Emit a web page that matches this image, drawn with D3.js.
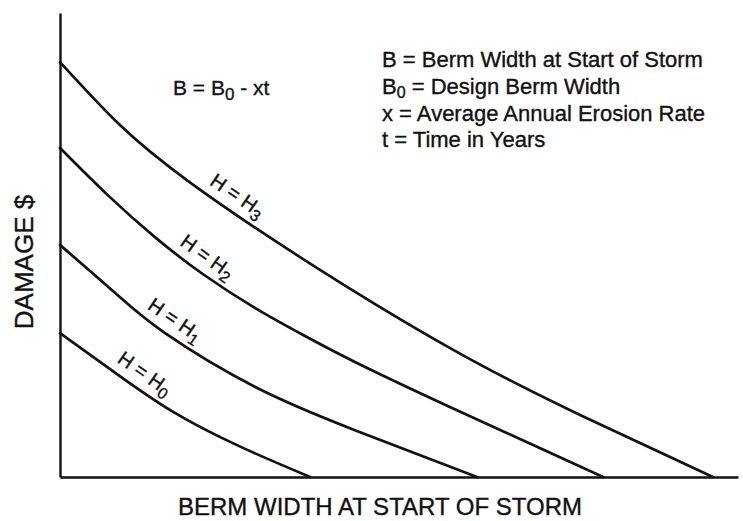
<!DOCTYPE html>
<html>
<head>
<meta charset="utf-8">
<script src="https://cdn.jsdelivr.net/npm/d3@7"></script>
<style>
  html, body { margin: 0; padding: 0; background: #fff; }
  svg { display: block; }
  text { font-family: "Liberation Sans", Arial, Helvetica, sans-serif; fill: #111; stroke: #111; stroke-width: 0.35px; }
</style>
</head>
<body>
<svg id="chart" width="743" height="521"></svg>
<script>
// Berm width at start of storm (relative units) and storm damage (relative units)
const curveNames = ["0", "1", "2", "3"];            // subscripts of H
const bermH0 = [0, 8.0, 16.5, 26.5, 36.9];
const damageH0 = [31.0, 22.6, 14.2, 6.6, 0];
const bermH1 = [0, 8.1, 15.5, 28.8, 43.5, 61.5];
const damageH1 = [50.0, 39.7, 31.0, 19.4, 10.1, 0];
const bermH2 = [0, 7.0, 14.0, 21.0, 28.8, 36.0, 43.5, 57.5, 80.1];
const damageH2 = [70.9, 60.8, 51.7, 43.8, 36.4, 30.5, 24.8, 15.1, 0];
const bermH3 = [0, 8.8, 18.7, 35.4, 58.0, 77.1, 96.3];
const damageH3 = [89.4, 75.9, 64.0, 47.4, 27.4, 13.1, 0];

const xLabel = "BERM WIDTH AT START OF STORM";
const yLabel = "DAMAGE $";
const formula = ["B = B", "0", " - xt"];
const notes = [
  ["B = Berm Width at Start of Storm"],
  ["B", "0", " = Design Berm Width"],
  ["x = Average Annual Erosion Rate"],
  ["t = Time in Years"]
];

const series = [
  { sub: curveNames[0], x: bermH0, y: damageH0 },
  { sub: curveNames[1], x: bermH1, y: damageH1 },
  { sub: curveNames[2], x: bermH2, y: damageH2 },
  { sub: curveNames[3], x: bermH3, y: damageH3 }
];

// where along each curve (in berm-width units) its label sits
const labelAt = [11.1, 15.6, 20.3, 24.8];

const svg = d3.select("#chart");
const plotLeft = 60, plotRight = 738, plotTop = 13, plotBottom = 477;

const x = d3.scaleLinear().domain([0, 100]).range([plotLeft, plotRight]);
const y = d3.scaleLinear().domain([0, 100]).range([plotBottom, plotTop]);

// axes: plain lines with no ticks
const xAxis = d3.axisBottom(x).tickValues([]).tickSizeOuter(0);
const yAxis = d3.axisLeft(y).tickValues([]).tickSizeOuter(0);
svg.append("g").attr("transform", `translate(0,${plotBottom})`).call(xAxis)
  .select(".domain").attr("stroke", "#111").attr("stroke-width", 2.4);
svg.append("g").attr("transform", `translate(${plotLeft},0)`).call(yAxis)
  .select(".domain").attr("stroke", "#111").attr("stroke-width", 2.4);

const line = d3.line()
  .x(d => x(d[0]))
  .y(d => y(d[1]))
  .curve(d3.curveNatural);

series.forEach((s, i) => {
  const pts = s.x.map((v, k) => [v, s.y[k]]);
  const path = svg.append("path")
    .attr("d", line(pts))
    .attr("fill", "none")
    .attr("stroke", "#111")
    .attr("stroke-width", 2.7)
    .attr("stroke-linecap", "round");

  // locate the label's foot point on the curve
  const node = path.node();
  const total = node.getTotalLength();
  const targetX = x(labelAt[i]);
  let lo = 0, hi = total;
  for (let k = 0; k < 40; k++) {
    const mid = (lo + hi) / 2;
    if (node.getPointAtLength(mid).x < targetX) lo = mid; else hi = mid;
  }
  const p = node.getPointAtLength(lo);
  const p1 = node.getPointAtLength(Math.max(0, lo - 6));
  const p2 = node.getPointAtLength(Math.min(total, lo + 6));
  const angle = Math.atan2(p2.y - p1.y, p2.x - p1.x) * 180 / Math.PI;

  const t = svg.append("text")
    .attr("transform", `translate(${p.x},${p.y}) rotate(${angle})`)
    .attr("y", -10)
    .attr("text-anchor", "middle")
    .attr("font-size", 20);
  t.append("tspan").text("H = H");
  t.append("tspan").attr("dy", 5).attr("font-size", 16).text(s.sub);
});

// formula
const f = svg.append("text").attr("x", 173).attr("y", 95).attr("font-size", 21);
f.append("tspan").text(formula[0]);
f.append("tspan").attr("dy", 5).attr("font-size", 17).text(formula[1]);
f.append("tspan").attr("dy", -5).text(formula[2]);

// definitions block
const noteY = [67, 94, 121, 147];
notes.forEach((parts, i) => {
  const t = svg.append("text").attr("x", 382).attr("y", noteY[i]).attr("font-size", 22);
  if (parts.length === 1) {
    t.text(parts[0]);
  } else {
    t.append("tspan").text(parts[0]);
    t.append("tspan").attr("dy", 4).attr("font-size", 16).text(parts[1]);
    t.append("tspan").attr("dy", -4).text(parts[2]);
  }
});

// axis titles
svg.append("text")
  .attr("x", 178).attr("y", 515)
  .attr("font-size", 24)
  .text(xLabel);

svg.append("text")
  .attr("transform", "translate(33,262) rotate(-90)")
  .attr("text-anchor", "middle")
  .attr("font-size", 26)
  .text(yLabel);
</script>
</body>
</html>
